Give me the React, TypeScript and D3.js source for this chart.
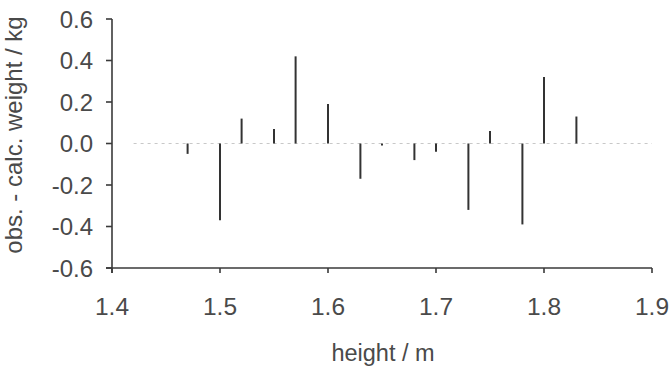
import React from "react";
import * as d3 from "d3";

const heights = [1.47, 1.5, 1.52, 1.55, 1.57, 1.6, 1.63, 1.65, 1.68, 1.7, 1.73, 1.75, 1.78, 1.8, 1.83];
const residuals = [-0.05, -0.37, 0.12, 0.07, 0.42, 0.19, -0.17, -0.01, -0.08, -0.04, -0.32, 0.06, -0.39, 0.32, 0.13];
const xTicks = [1.4, 1.5, 1.6, 1.7, 1.8, 1.9];
const yTicks = [-0.6, -0.4, -0.2, 0.0, 0.2, 0.4, 0.6];

const W = 669;
const H = 373;
const FONT = "'Liberation Sans', Arial, Helvetica, sans-serif";

export default function App() {
  const x = d3.scaleLinear().domain([1.4, 1.9]).range([112, 652]);
  const y = d3.scaleLinear().domain([-0.6, 0.6]).range([268, 19]);
  const axisColor = "#3a3a3a";
  const textColor = "#4a4a4a";
  const fmt = (v: number) => v.toFixed(1);

  return (
    <svg
      width={W}
      height={H}
      style={{ position: "fixed", left: 0, top: 0, background: "#fff" }}
      fontFamily={FONT}
    >
      <rect x={0} y={0} width={W} height={H} fill="#fff" />
      {/* zero reference line */}
      <line
        x1={x(1.42)}
        x2={x(1.9)}
        y1={y(0)}
        y2={y(0)}
        stroke="#c8c8c8"
        strokeWidth={1}
        strokeDasharray="3,4"
      />
      {/* residual bars */}
      {heights.map((h, i) => (
        <line
          key={i}
          x1={x(h)}
          x2={x(h)}
          y1={y(0)}
          y2={y(residuals[i])}
          stroke="#333"
          strokeWidth={2}
        />
      ))}
      {/* y axis */}
      <line x1={x(1.4)} x2={x(1.4)} y1={y(0.6)} y2={y(-0.6) + 5} stroke={axisColor} strokeWidth={1.6} />
      {yTicks.map((t, i) => (
        <g key={i}>
          <line x1={x(1.4) - 6} x2={x(1.4)} y1={y(t)} y2={y(t)} stroke={axisColor} strokeWidth={1.6} />
          <text x={93} y={y(t) + 8.5} textAnchor="end" fontSize={24} fill={textColor}>
            {fmt(t)}
          </text>
        </g>
      ))}
      {/* x axis */}
      <line x1={x(1.4) - 6} x2={x(1.9)} y1={y(-0.6)} y2={y(-0.6)} stroke={axisColor} strokeWidth={1.6} />
      {xTicks.map((t, i) => (
        <g key={i}>
          <line x1={x(t)} x2={x(t)} y1={y(-0.6)} y2={y(-0.6) + 5} stroke={axisColor} strokeWidth={1.6} />
          <text x={x(t)} y={315} textAnchor="middle" fontSize={24.5} fill={textColor}>
            {fmt(t)}
          </text>
        </g>
      ))}
      {/* axis titles */}
      <text x={383} y={361} textAnchor="middle" fontSize={23.5} fill={textColor}>
        height / m
      </text>
      <text
        transform={`translate(22, 135) rotate(-90)`}
        textAnchor="middle"
        fontSize={24}
        fill={textColor}
      >
        obs. - calc. weight / kg
      </text>
    </svg>
  );
}
